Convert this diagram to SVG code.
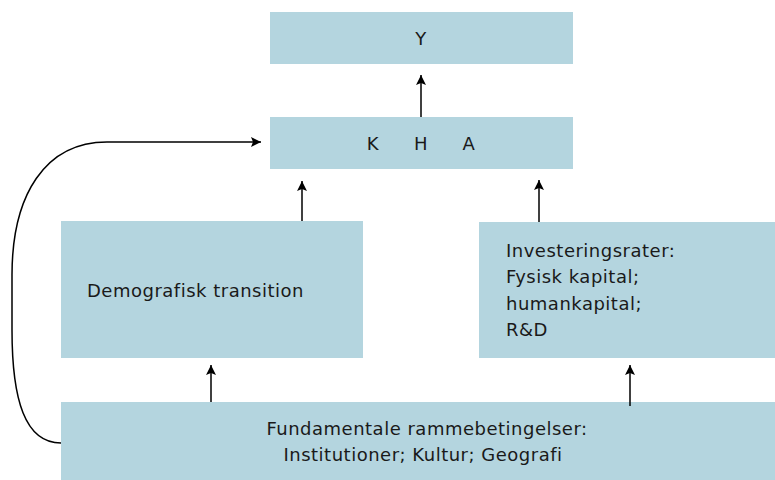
<svg xmlns="http://www.w3.org/2000/svg" width="775" height="480" viewBox="0 0 775 480">
<style>
.box{fill:#b4d5df}
.t{font-family:"DejaVu Sans",sans-serif;font-size:18px;fill:#1a1a1a;letter-spacing:0.5px}
.c{text-anchor:middle}
.ln{fill:none;stroke:#000;stroke-width:1.5}
</style>
<defs>
<marker id="ah" viewBox="0 0 10 12" refX="10" refY="6" markerWidth="10" markerHeight="12" markerUnits="userSpaceOnUse" orient="auto">
<path d="M0,1 L10,6 L0,11 L2,6 Z" fill="#000"/>
</marker>
</defs>
<rect width="775" height="480" fill="#fff"/>
<g id="nodeY"><rect class="box" x="270" y="12" width="303" height="52"/><text class="t c" x="421" y="45">Y</text></g>
<g id="nodeKHA"><rect class="box" x="270" y="117" width="303" height="52"/>
<text class="t c" x="373" y="150">K</text><text class="t c" x="421" y="150">H</text><text class="t c" x="469" y="150">A</text></g>
<g id="nodeDemo"><rect class="box" x="61" y="221" width="302" height="137"/><text class="t" x="87" y="297">Demografisk transition</text></g>
<g id="nodeInvest"><rect class="box" x="479" y="222" width="296" height="136"/>
<text class="t" x="506" y="257">Investeringsrater:</text>
<text class="t" x="506" y="283">Fysisk kapital;</text>
<text class="t" x="506" y="310">humankapital;</text>
<text class="t" x="506" y="336">R&amp;D</text></g>
<g id="nodeFund"><rect class="box" x="61" y="402" width="714" height="78"/>
<text class="t c" x="427" y="435">Fundamentale rammebetingelser:</text>
<text class="t c" x="423" y="461">Institutioner; Kultur; Geografi</text></g>
<g id="connectors">
<line class="ln" x1="421" y1="117" x2="421" y2="75" marker-end="url(#ah)"/>
<line class="ln" x1="302" y1="221" x2="302" y2="181" marker-end="url(#ah)"/>
<line class="ln" x1="539" y1="222" x2="539" y2="180" marker-end="url(#ah)"/>
<line class="ln" x1="211" y1="402" x2="211" y2="365" marker-end="url(#ah)"/>
<line class="ln" x1="630" y1="406" x2="630" y2="365" marker-end="url(#ah)"/>
<path class="ln" d="M61,443 C25,443 12,400 12,330 L12,275 C12,195 45,142 107,142 L261,142" marker-end="url(#ah)"/>
</g>
</svg>
